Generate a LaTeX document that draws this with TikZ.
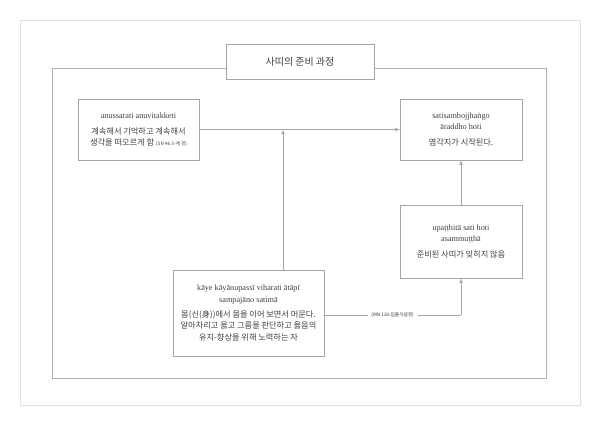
\documentclass[tikz,border=0pt]{standalone}
\usepackage{fontspec}
\setmainfont{Liberation Serif}
\newfontfamily\kr{Noto Sans CJK KR}
\usetikzlibrary{positioning}
\tikzset{
  stepbox/.style={draw=black!35, fill=white, align=center, text=black!75,
    font=\fontsize{7}{9.5}\selectfont, inner sep=0pt},
  flow/.style={draw=black!35, line width=0.4pt, -latex}
}
\begin{document}
\begin{tikzpicture}[x=0.03cm, y=-0.03cm]
\useasboundingbox (0,0) rectangle (600,425);
\draw[black!12] (20,20) rectangle (580,405);
\draw[black!30] (52,68) rectangle (546,378);

\node[stepbox, minimum width=148*0.03cm, minimum height=35*0.03cm] at (300,62) (title) {\kr\fontsize{8.5}{10}\selectfont 사띠의 준비 과정};

\node[stepbox, minimum width=121*0.03cm, minimum height=61*0.03cm] at (138.5,129.5) (anu)
  {anussarati anuvitakketi\\[4pt] {\kr 계속해서 기억하고 계속해서}\\{\kr 생각을 떠오르게 함} {\kr\fontsize{4}{4}\selectfont(SN 46.3-계 경)}};

\node[stepbox, minimum width=122*0.03cm, minimum height=61*0.03cm] at (461,129.5) (sati)
  {satisambojjhaṅgo\\āraddho hoti\\[4pt] {\kr 염각지가 시작된다.}};

\node[stepbox, minimum width=122*0.03cm, minimum height=73*0.03cm] at (461,241.5) (upa)
  {upaṭṭhitā sati hoti\\asammuṭṭhā\\[4pt] {\kr 준비된 사띠가 잊히지 않음}};

\node[stepbox, minimum width=151*0.03cm, minimum height=86*0.03cm] at (248.5,313) (kaye)
  {kāye kāyānupassī viharati ātāpī\\sampajāno satimā\\[4pt] {\kr 몸(신(身))에서 몸을 이어 보면서 머문다.}\\{\kr 알아차리고 옳고 그름을 판단하고 옳음의}\\{\kr 유지-향상을 위해 노력하는 자}};

\coordinate (mid) at (283,129.5);
\coordinate (corner) at (461,315);

\draw[flow] (anu) -- (sati);
\draw[flow] (kaye.north -| mid) -- (mid);
\draw[draw=black!35] (kaye.east |- corner) -- node[fill=white, text=black!80, font=\kr\fontsize{4}{4}\selectfont] (ref) {(MN 118-입출식념경)} (corner);
\draw[flow] (corner) -- (upa);
\draw[flow] (upa) -- (sati);
\end{tikzpicture}
\end{document}
